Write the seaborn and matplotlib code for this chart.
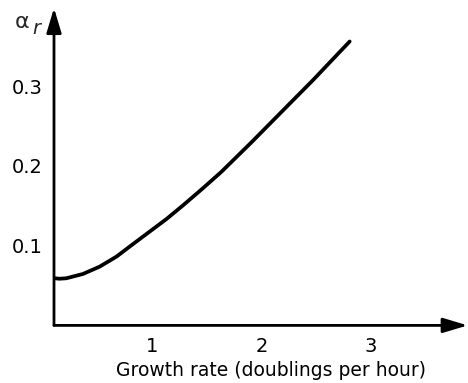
import matplotlib
matplotlib.use("Agg")
import matplotlib.pyplot as plt
import seaborn as sns
import pandas as pd

# Data
growth_rate = [0.106, 0.15, 0.213, 0.365, 0.518, 0.671, 0.792, 0.975, 1.13, 1.28, 1.45, 1.631, 1.906, 2.18, 2.469, 2.805]
alpha_r = [0.0591, 0.0585, 0.0591, 0.0645, 0.0737, 0.0862, 0.0988, 0.1176, 0.1335, 0.1505, 0.1705, 0.1925, 0.2295, 0.2675, 0.3075, 0.356]
x_ticks = [1, 2, 3]
x_tick_labels = ["1", "2", "3"]
y_ticks = [0.1, 0.2, 0.3]
y_tick_labels = ["0.1", "0.2", "0.3"]

df = pd.DataFrame({"growth": growth_rate, "alpha": alpha_r})

sns.set_style("white")
plt.rcParams["font.family"] = ["DejaVu Sans"]

fig = plt.figure(figsize=(4.68, 3.83), dpi=100)
ax = fig.add_axes([54 / 468, (383 - 325.4) / 383, 413.7 / 468, 317.4 / 383])

sns.lineplot(data=df, x="growth", y="alpha", ax=ax, color="black", lw=2.7,
             solid_capstyle="round", solid_joinstyle="round", sort=False)

ax.set_xlim(0.1, 3.885)
ax.set_ylim(0, 0.398)
ax.set_xticks(x_ticks)
ax.set_xticklabels(x_tick_labels)
ax.set_yticks(y_ticks)
ax.set_yticklabels(y_tick_labels)
ax.tick_params(axis="both", direction="in", length=9, width=1.1, color="black",
               labelsize=14, pad=8, labelcolor="black")
for s in ax.spines.values():
    s.set_visible(False)

arrow_kw = dict(arrowstyle="-|>,head_length=1.5,head_width=0.45", lw=2, color="black",
                shrinkA=0, shrinkB=0)
ax.annotate("", xy=(1, 0), xytext=(0, 0), xycoords="axes fraction",
            textcoords="axes fraction", arrowprops=arrow_kw, annotation_clip=False)
ax.annotate("", xy=(0, 1), xytext=(0, 0), xycoords="axes fraction",
            textcoords="axes fraction", arrowprops=arrow_kw, annotation_clip=False)

ax.set_xlabel("Growth rate (doublings per hour)", fontsize=13.5, color="black")
ax.xaxis.set_label_coords(0.525, -0.112)
ax.set_ylabel("")

fig.text(22 / 468, 1 - 22 / 383, "α", fontsize=16, ha="center", va="center")
fig.text(36 / 468, 1 - 28 / 383, "r", fontsize=14, style="italic", ha="center", va="center")

fig.savefig("out.png", dpi=100)
